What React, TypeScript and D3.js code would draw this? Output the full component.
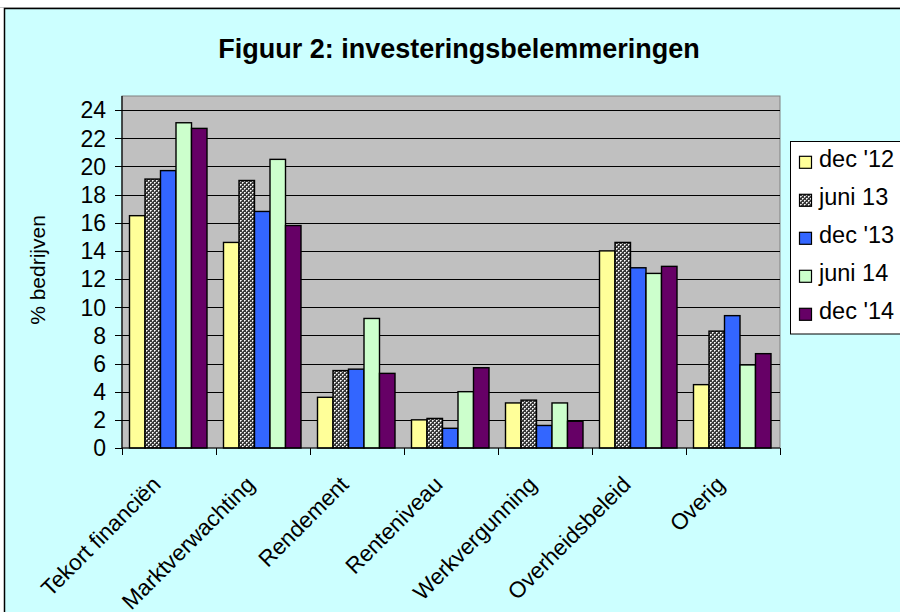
import React from "react";
import * as d3 from "d3";

const categories = [
  "Tekort financiën",
  "Marktverwachting",
  "Rendement",
  "Renteniveau",
  "Werkvergunning",
  "Overheidsbeleid",
  "Overig",
];
const seriesNames = ["dec '12", "juni 13", "dec '13", "juni 14", "dec '14"];
const dec12 = [16.5, 14.6, 3.6, 2.0, 3.2, 14.0, 4.5];
const juni13 = [19.1, 19.0, 5.5, 2.1, 3.4, 14.6, 8.3];
const dec13 = [19.7, 16.8, 5.6, 1.4, 1.6, 12.8, 9.4];
const juni14 = [23.1, 20.5, 9.2, 4.0, 3.2, 12.4, 5.9];
const dec14 = [22.7, 15.8, 5.3, 5.7, 1.9, 12.9, 6.7];
const yTicks = [0, 2, 4, 6, 8, 10, 12, 14, 16, 18, 20, 22, 24];

const seriesValues = [dec12, juni13, dec13, juni14, dec14];
const seriesFills = ["#FFFF99", "url(#pat13)", "#3366FF", "#CCFFCC", "#660066"];

const FONT = "'Liberation Sans', Arial, sans-serif";

export default function App() {
  const plotLeft = 122;
  const plotRight = 780;
  const plotTop = 96;
  const plotBottom = 448;

  const x = d3.scaleBand<string>().domain(categories).range([plotLeft, plotRight]).padding(0);
  const inner = d3
    .scaleBand<string>()
    .domain(seriesNames)
    .range([7.5, 85])
    .padding(0);
  const y = d3.scaleLinear().domain([0, 25]).range([plotBottom, plotTop]);

  const bw = inner.bandwidth();

  return (
    <svg
      width={900}
      height={612}
      style={{ position: "fixed", left: 0, top: 0, display: "block" }}
    >
      <defs>
        <pattern id="pat13" patternUnits="userSpaceOnUse" width={4} height={4}>
          <rect width={4} height={4} fill="#3a3a3a" />
          <rect x={0} y={0} width={1} height={1} fill="#ffffff" />
          <rect x={2} y={2} width={1} height={1} fill="#ffffff" />
          <rect x={1} y={0} width={1} height={1} fill="#b8b8b8" />
          <rect x={0} y={1} width={1} height={1} fill="#b8b8b8" />
          <rect x={3} y={2} width={1} height={1} fill="#b8b8b8" />
          <rect x={2} y={3} width={1} height={1} fill="#b8b8b8" />
        </pattern>
      </defs>
      <rect x={0} y={0} width={900} height={612} fill="#ffffff" />
      <line x1={0} x2={900} y1={7.5} y2={7.5} stroke="#c8c8c8" strokeWidth={1} />
      <rect x={4.5} y={8.5} width={900} height={610} fill="#CCFFFF" stroke="#000" strokeWidth={1.5} />

      {/* title */}
      <text
        x={459}
        y={57.5}
        textAnchor="middle"
        fontFamily={FONT}
        fontWeight="bold"
        fontSize={27}
        fill="#000"
      >
        Figuur 2: investeringsbelemmeringen
      </text>

      {/* plot area */}
      <rect
        x={plotLeft}
        y={plotTop}
        width={plotRight - plotLeft}
        height={plotBottom - plotTop}
        fill="#C0C0C0"
        stroke="#808080"
        strokeWidth={1}
      />
      {yTicks
        .filter((t) => t > 0)
        .map((t) => (
          <line
            key={"g" + t}
            x1={plotLeft}
            x2={plotRight}
            y1={Math.round(y(t)) + 0.5}
            y2={Math.round(y(t)) + 0.5}
            stroke="#000"
            strokeWidth={1}
          />
        ))}

      {/* bars */}
      {categories.map((c, ci) => (
        <g key={c}>
          {seriesNames.map((s, si) => {
            const v = seriesValues[si][ci];
            const x0 = (x(c) as number) + (inner(s) as number);
            return (
              <rect
                key={s}
                x={x0}
                y={y(v)}
                width={bw}
                height={y(0) - y(v)}
                fill={seriesFills[si]}
                stroke="#000"
                strokeWidth={1.4}
              />
            );
          })}
        </g>
      ))}

      {/* axes */}
      <line x1={plotLeft} x2={plotLeft} y1={plotTop} y2={plotBottom} stroke="#000" strokeWidth={1.2} />
      <line x1={plotLeft} x2={plotRight} y1={plotBottom} y2={plotBottom} stroke="#000" strokeWidth={1.2} />
      {yTicks.map((t) => (
        <g key={"yt" + t}>
          <line
            x1={plotLeft - 7}
            x2={plotLeft}
            y1={Math.round(y(t)) + 0.5}
            y2={Math.round(y(t)) + 0.5}
            stroke="#000"
            strokeWidth={1}
          />
          <text
            x={106}
            y={y(t) + 8.3}
            textAnchor="end"
            fontFamily={FONT}
            fontSize={23}
            fill="#000"
          >
            {t}
          </text>
        </g>
      ))}
      {categories.concat([""]).map((c, i) => {
        const xx = plotLeft + i * x.bandwidth();
        return (
          <line
            key={"xt" + i}
            x1={Math.round(xx) + 0.5}
            x2={Math.round(xx) + 0.5}
            y1={plotBottom}
            y2={plotBottom + 7}
            stroke="#000"
            strokeWidth={1}
          />
        );
      })}
      {categories.map((c) => {
        const cx = (x(c) as number) + x.bandwidth() / 2 - 7;
        return (
          <text
            key={"xl" + c}
            transform={`translate(${cx},486) rotate(-45)`}
            textAnchor="end"
            fontFamily={FONT}
            fontSize={22.5}
            fill="#000"
          >
            {c}
          </text>
        );
      })}

      {/* y title */}
      <text
        transform="translate(45,270) rotate(-90)"
        textAnchor="middle"
        fontFamily={FONT}
        fontSize={21}
        fill="#000"
      >
        % bedrijven
      </text>

      {/* legend */}
      <rect x={790.5} y={141.5} width={120} height={192.5} fill="#fff" stroke="#000" strokeWidth={1} />
      {seriesNames.map((s, i) => {
        const by = 167.3 + i * 38;
        return (
          <g key={"lg" + s}>
            <rect
              x={799.5}
              y={by - 11}
              width={12}
              height={12}
              fill={seriesFills[i]}
              stroke="#000"
              strokeWidth={1.2}
            />
            <text
              x={819}
              y={by}
              fontFamily={FONT}
              fontSize={23.5}
              fill="#000"
            >
              {s}
            </text>
          </g>
        );
      })}
    </svg>
  );
}
